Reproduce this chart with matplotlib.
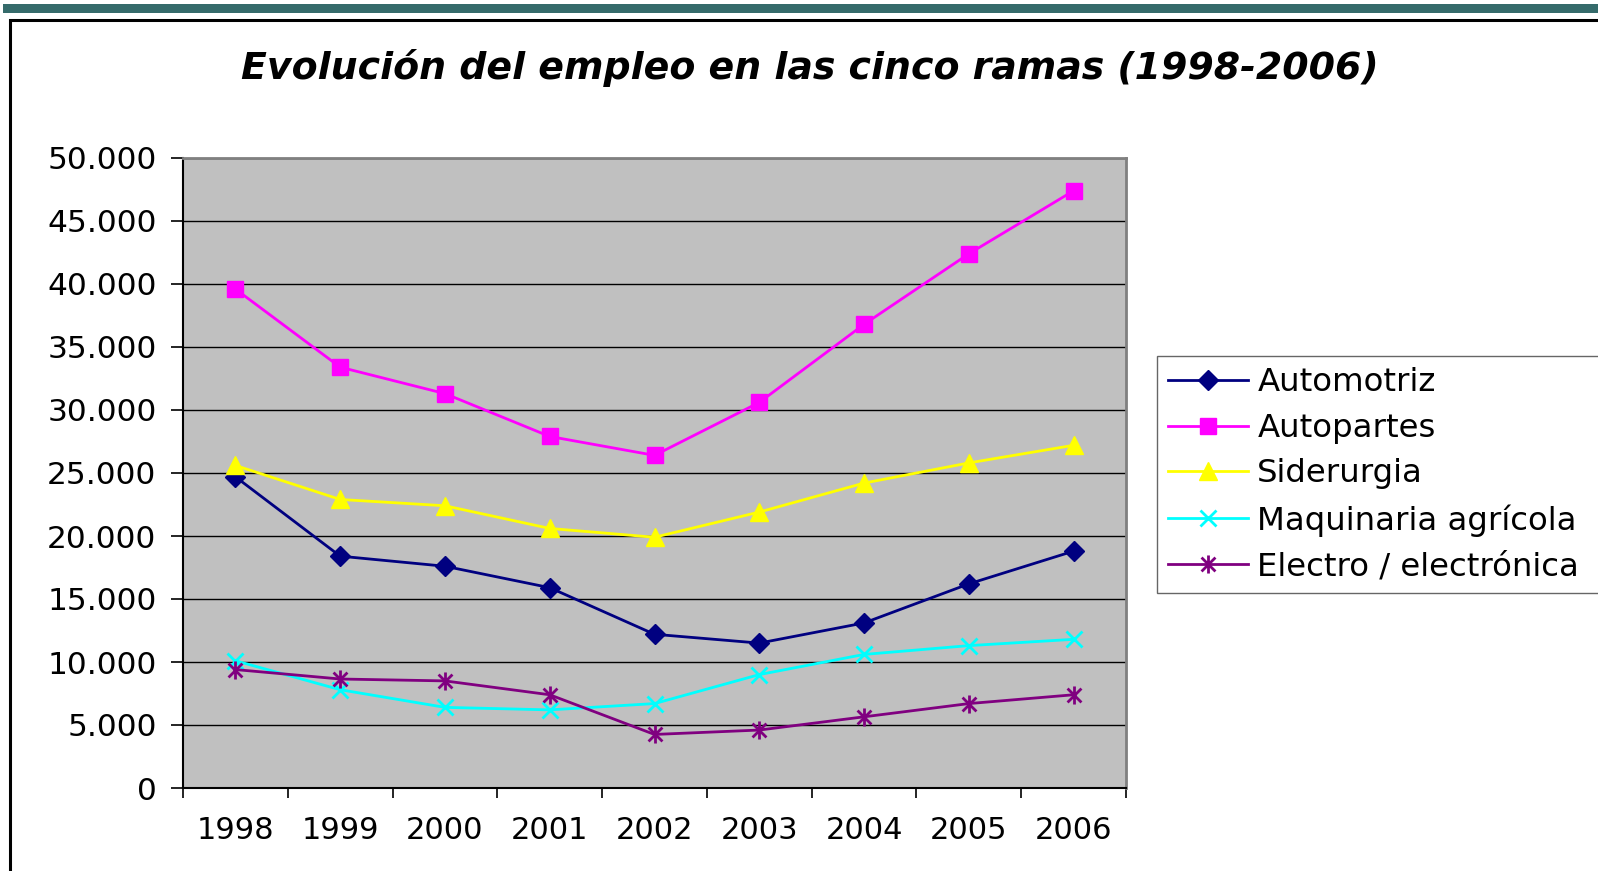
import matplotlib
matplotlib.use("Agg")
import matplotlib.pyplot as plt
from matplotlib.path import Path
from matplotlib.patches import Rectangle
from matplotlib.ticker import FuncFormatter, FixedLocator, NullFormatter

# wide sans to mimic the stretched Excel rendering
plt.rcParams["font.family"] = ["DejaVu Sans"]

# --- data (empleo por rama) ---
years = ["1998", "1999", "2000", "2001", "2002", "2003", "2004", "2005", "2006"]
automotriz = [24700, 18400, 17600, 15900, 12200, 11500, 13100, 16200, 18800]
autopartes = [39600, 33400, 31300, 27900, 26400, 30600, 36800, 42400, 47400]
siderurgia = [25600, 22900, 22400, 20600, 19900, 21900, 24200, 25800, 27200]
maquinaria = [10100, 7800, 6400, 6200, 6700, 9000, 10600, 11300, 11800]
electro = [9400, 8650, 8500, 7400, 4250, 4600, 5650, 6700, 7400]

W, H = 1598, 871
fig = plt.figure(figsize=(W / 100, H / 100), dpi=100)

# top banner and chart frame
fig.patches.append(Rectangle((3 / W, 1 - 13 / H), 1, 9 / H, transform=fig.transFigure,
                             facecolor="#356b6b", edgecolor="none"))
fig.patches.append(Rectangle((10 / W, -0.1), 1.2, 1 - 20 / H + 0.1, transform=fig.transFigure,
                             facecolor="none", edgecolor="black", linewidth=2.2))

ax = fig.add_axes([183 / W, 1 - 788 / H, (1126 - 183) / W, (788 - 158) / H])
ax.set_facecolor("#c0c0c0")

# Excel style asterisk: X plus vertical bar
star = Path([(-1, -1), (1, 1), (-1, 1), (1, -1), (0, -1.3), (0, 1.3)],
            [Path.MOVETO, Path.LINETO, Path.MOVETO, Path.LINETO, Path.MOVETO, Path.LINETO])

x = list(range(len(years)))
ax.plot(x, automotriz, color="#000080", marker="D", markersize=10, lw=2, label="Automotriz")
ax.plot(x, autopartes, color="#ff00ff", marker="s", markersize=11, lw=2, label="Autopartes")
ax.plot(x, siderurgia, color="#ffff00", marker="^", markersize=13, lw=2, label="Siderurgia")
ax.plot(x, maquinaria, color="#00ffff", marker="x", markersize=12, markeredgewidth=2, lw=2,
        label="Maquinaria agrícola")
ax.plot(x, electro, color="#800080", marker=star, markersize=13, markeredgewidth=2, lw=2,
        label="Electro / electrónica")

ax.set_xlim(-0.5, len(years) - 0.5)
ax.set_ylim(0, 50000)
ax.set_yticks(range(0, 50001, 5000))
ax.yaxis.set_major_formatter(FuncFormatter(lambda v, p: f"{v:,.0f}".replace(",", ".")))
ax.grid(axis="y", color="black", linewidth=1)
ax.set_axisbelow(True)

# category labels centred, ticks on boundaries
ax.xaxis.set_major_locator(FixedLocator([i - 0.5 for i in range(len(years) + 1)]))
ax.xaxis.set_major_formatter(NullFormatter())
ax.xaxis.set_minor_locator(FixedLocator(x))
ax.set_xticklabels(years, minor=True)
ax.tick_params(axis="x", which="major", length=7, width=1.2, color="black")
ax.tick_params(axis="x", which="minor", length=0, pad=20, labelsize=22)
ax.tick_params(axis="y", length=9, width=1.2, pad=10, labelsize=22.5)

for s in ["top", "right"]:
    ax.spines[s].set_color("#808080")
    ax.spines[s].set_linewidth(2)
ax.spines["left"].set_color("black")
ax.spines["bottom"].set_color("black")
ax.spines["left"].set_linewidth(1.5)
ax.spines["bottom"].set_linewidth(1.5)

fig.text(810 / W, 1 - 68 / H, "Evolución del empleo en las cinco ramas (1998-2006)",
         ha="center", va="center", fontsize=27.3, fontweight="bold", fontstyle="italic")

leg = fig.legend(loc="upper left", bbox_to_anchor=(1157 / W, 1 - 356 / H, 0.3, 0.0),
                 mode="expand", fontsize=23.3, frameon=True, fancybox=False,
                 borderpad=0.35, labelspacing=0.45, handlelength=2.45, handletextpad=0.3,
                 borderaxespad=0)
leg.get_frame().set_edgecolor("#404040")
leg.get_frame().set_linewidth(1)

fig.savefig("out.png", dpi=100)
